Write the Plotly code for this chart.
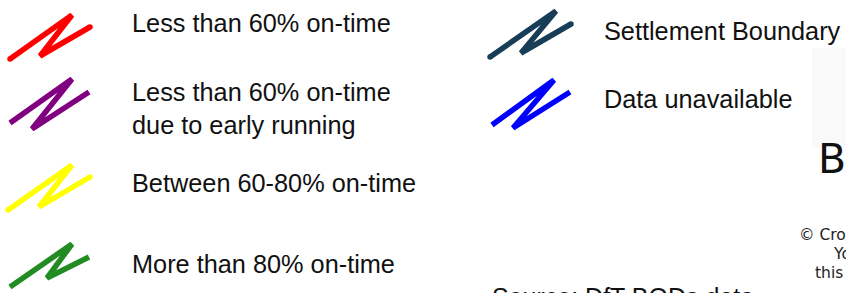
import plotly.graph_objects as go

# ---- data ----
labels = [
    "Less than 60% on-time",
    "Less than 60% on-time<br>due to early running",
    "Between 60-80% on-time",
    "More than 80% on-time",
    "Settlement Boundary",
    "Data unavailable",
]
colors = ["#ff0000", "#800080", "#ffff00", "#228b22", "#173d57", "#0000ff"]
caps = ["round", "butt", "round", "butt", "round", "butt"]

side_text = ["B"]
copyright_lines = ["© Crown copyright", "You", "this"]
source_text = "Source: DfT BODs data"

# ---- layout / style constants ----
W, H = 846, 293
icon_anchor = [(10, 59), (10, 123), (8, 210), (10, 287), (490, 57), (492, 125)]
icon_shape = [
    [(0, 0), (62, -44), (30, -3), (80, -32)],
    [(0, 0), (62, -44), (22, 6), (79, -31)],
    [(0, 0), (64, -45), (31, -3), (82, -33)],
    [(0, 0), (62, -43), (37, -9), (79, -30)],
    [(0, 0), (66, -46), (31, -4), (81, -33)],
    [(0, 0), (62, -45), (21, 3), (78, -33)],
]
text_pos = [(130, 23), (130, 108), (130, 183), (130, 264), (602, 31), (602, 99)]
FONT = "Liberation Sans, Arial, sans-serif"
LW = 5.5

fig = go.Figure()

# faint box behind the clipped title
fig.add_shape(type="rect", x0=812, x1=W + 5, y0=48, y1=148,
              line=dict(width=0), fillcolor="#f9f9f9", layer="below")

for i, lab in enumerate(labels):
    ax, ay = icon_anchor[i]
    xs = [ax + dx for dx, dy in icon_shape[i]]
    ys = [ay + dy for dx, dy in icon_shape[i]]
    fig.add_trace(go.Scatter(x=xs, y=ys, mode="lines",
                             line=dict(color=colors[i], width=LW),
                             hoverinfo="skip", showlegend=False))
    if caps[i] == "round":
        fig.add_trace(go.Scatter(x=[xs[0], xs[-1]], y=[ys[0], ys[-1]], mode="markers",
                                 marker=dict(color=colors[i], size=LW, line=dict(width=0)),
                                 hoverinfo="skip", showlegend=False))
    tx, ty = text_pos[i]
    fig.add_annotation(x=tx, y=ty, text=lab, showarrow=False, xanchor="left",
                       yanchor="middle", align="left",
                       font=dict(family=FONT, size=25.3, color="#111111"))

fig.add_annotation(x=816, y=159, text=side_text[0], showarrow=False, xanchor="left",
                   yanchor="middle", font=dict(family="DejaVu Sans", size=41, color="#111111"))

cy = [235, 254, 273]
cx = [797, 831, 813]
for t, x, y in zip(copyright_lines, cx, cy):
    fig.add_annotation(x=x, y=y, text=t, showarrow=False, xanchor="left", yanchor="middle",
                       font=dict(family="DejaVu Sans", size=15.5, color="#222222"))

fig.add_annotation(x=490, y=281, text=source_text, showarrow=False, xanchor="left",
                   yanchor="top", font=dict(family=FONT, size=25, color="#111111"))

fig.update_layout(
    width=W, height=H, margin=dict(l=0, r=0, t=0, b=0),
    paper_bgcolor="white", plot_bgcolor="white",
    xaxis=dict(range=[0, W], visible=False, fixedrange=True),
    yaxis=dict(range=[H, 0], visible=False, fixedrange=True),
)
fig.write_html("out.html", config={"displayModeBar": False},
               post_script="document.body.style.margin='0px';document.body.style.overflow='hidden';")
